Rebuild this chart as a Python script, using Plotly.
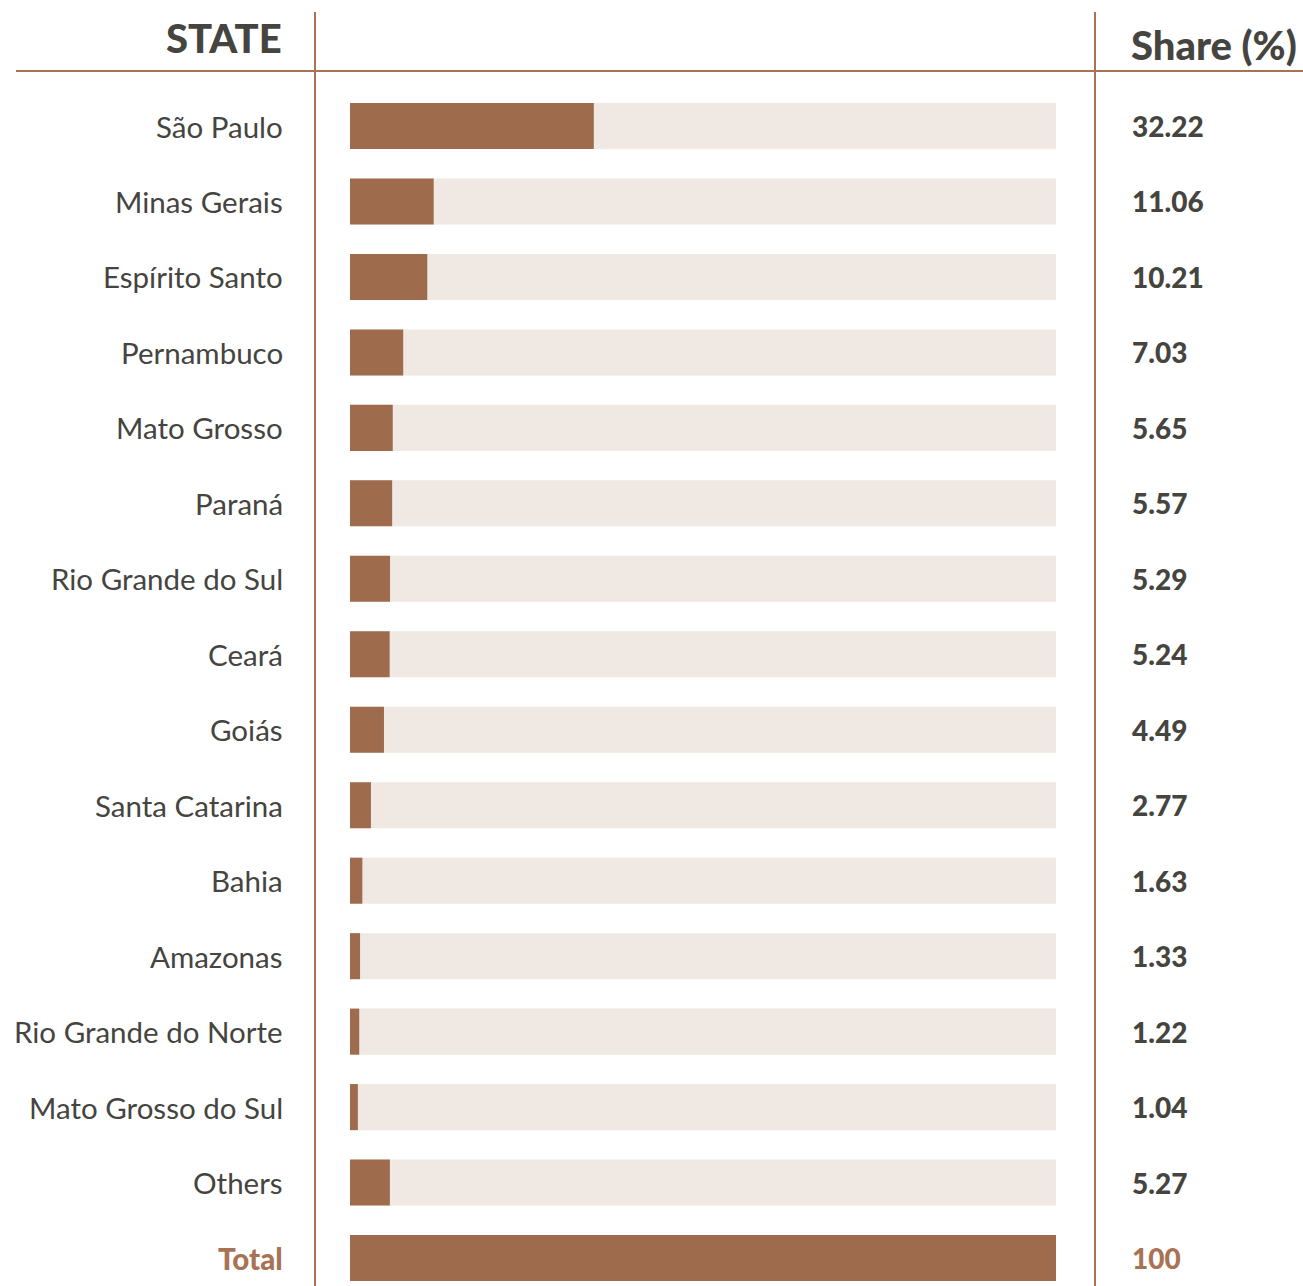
import plotly.graph_objects as go

states = ["São Paulo", "Minas Gerais", "Espírito Santo", "Pernambuco", "Mato Grosso",
          "Paraná", "Rio Grande do Sul", "Ceará", "Goiás", "Santa Catarina", "Bahia",
          "Amazonas", "Rio Grande do Norte", "Mato Grosso do Sul", "Others", "Total"]
share = [32.22, 11.06, 10.21, 7.03, 5.65, 5.57, 5.29, 5.24, 4.49, 2.77, 1.63,
         1.33, 1.22, 1.04, 5.27, 100]
share_labels = ["32.22", "11.06", "10.21", "7.03", "5.65", "5.57", "5.29", "5.24",
                "4.49", "2.77", "1.63", "1.33", "1.22", "1.04", "5.27", "100"]
background = [100] * len(states)

W, H = 1303, 1286
BAR = "#9E6C4C"
BG = "#F0E8E2"
TXT = "#45443F"
LINE = "#A87355"
FONT = "Lato"

idx = list(range(len(states)))
row0, step = 126.0, 75.47

fig = go.Figure()
fig.add_trace(go.Bar(x=background, y=idx, orientation="h", marker_color=BG,
                     width=0.61, hoverinfo="skip", marker_line_width=0))
fig.add_trace(go.Bar(x=share, y=idx, orientation="h", marker_color=BAR,
                     width=0.61, marker_line_width=0))

ann = []
for i, (s, v) in enumerate(zip(states, share_labels)):
    last = s == "Total"
    ann.append(dict(x=285 / W, xref="paper", y=i, yref="y", text=s,
                    xanchor="right", yanchor="middle", showarrow=False,
                    font=dict(family=FONT, size=29.5, color=LINE if last else TXT,
                              weight=900 if last else 400)))
    ann.append(dict(x=1130 / W, xref="paper", y=i, yref="y", text=v,
                    xanchor="left", yanchor="middle", showarrow=False,
                    font=dict(family=FONT, size=28, color=LINE if last else TXT, weight=900)))
ann.append(dict(x=284 / W, xref="paper", y=1 - 38 / H, yref="paper", text="STATE",
                xanchor="right", yanchor="middle", showarrow=False,
                font=dict(family=FONT, size=40, color=TXT, weight=900)))
ann.append(dict(x=1129 / W, xref="paper", y=1 - 45 / H, yref="paper", text="Share (%)",
                xanchor="left", yanchor="middle", showarrow=False,
                font=dict(family=FONT, size=40, color=TXT, weight=900)))

shapes = [
    dict(type="line", xref="paper", yref="paper", x0=16 / W, x1=1, y0=1 - 71 / H, y1=1 - 71 / H,
         line=dict(color=LINE, width=2)),
    dict(type="line", xref="paper", yref="paper", x0=315 / W, x1=315 / W, y0=0, y1=1 - 12 / H,
         line=dict(color=LINE, width=2)),
    dict(type="line", xref="paper", yref="paper", x0=1095 / W, x1=1095 / W, y0=0, y1=1 - 12 / H,
         line=dict(color=LINE, width=2)),
]

top_val = -row0 / step
bot_val = (H - row0) / step

fig.update_layout(
    width=W, height=H, margin=dict(l=0, r=0, t=0, b=0),
    paper_bgcolor="white", plot_bgcolor="white",
    barmode="overlay", showlegend=False,
    xaxis=dict(domain=[350 / W, 1056 / W], range=[0, 93.3], visible=False, fixedrange=True),
    yaxis=dict(domain=[0, 1], range=[bot_val, top_val], visible=False, fixedrange=True),
    annotations=ann, shapes=shapes,
)

fig.write_html("out.html", config={"displayModeBar": False},
               post_script="document.body.style.margin='0';document.body.style.overflow='hidden';")
